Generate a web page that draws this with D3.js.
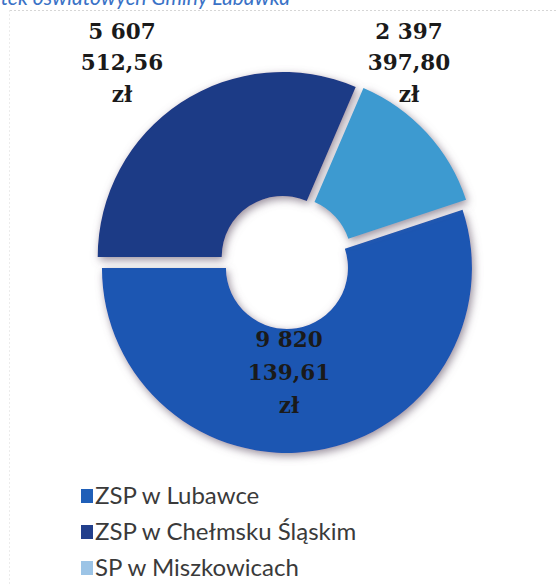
<!DOCTYPE html>
<html>
<head>
<meta charset="utf-8">
<script src="https://cdn.jsdelivr.net/npm/d3@7"></script>
<style>
  html, body { margin: 0; padding: 0; background: #ffffff; }
  svg { display: block; }
</style>
</head>
<body>
<svg id="chart" width="556" height="586"></svg>
<script>
// ---- data ----
const categories = ["ZSP w Lubawce", "ZSP w Chełmsku Śląskim", "SP w Miszkowicach"];
const values = [9820139.61, 5607512.56, 2397397.80];
const sliceColors = ["#1b56b2", "#1f3a86", "#3e9ad0"];
const legendColors = ["#1f5fb8", "#223f8c", "#9cc4e6"];
const titleText = "Wydatki jednostek oświatowych Gminy Lubawka";

// ---- layout ----
const W = 556, H = 586;
const cx = 286, cy = 262, rOuter = 185, rInner = 61, explode = 6;

const svg = d3.select("#chart");

const defs = svg.append("defs");
const f = defs.append("filter").attr("id", "shadow")
  .attr("x", "-20%").attr("y", "-20%").attr("width", "140%").attr("height", "140%");
f.append("feGaussianBlur").attr("in", "SourceAlpha").attr("stdDeviation", 4).attr("result", "blur");
f.append("feOffset").attr("in", "blur").attr("dx", 2).attr("dy", 3).attr("result", "off");
f.append("feFlood").attr("flood-color", "#76687a").attr("flood-opacity", 0.75).attr("result", "col");
f.append("feComposite").attr("in", "col").attr("in2", "off").attr("operator", "in").attr("result", "sh");
const m = f.append("feMerge");
m.append("feMergeNode").attr("in", "sh");
m.append("feMergeNode").attr("in", "SourceGraphic");

// faint frame (dotted) of the original chart area
svg.append("line").attr("x1", 10).attr("x2", W).attr("y1", 10.5).attr("y2", 10.5)
  .attr("stroke", "#d6d6d6").attr("stroke-width", 1).attr("stroke-dasharray", "2,2");
svg.append("line").attr("x1", 9.5).attr("x2", 9.5).attr("y1", 10).attr("y2", H)
  .attr("stroke", "#ececec").attr("stroke-width", 1).attr("stroke-dasharray", "2,2");

// title (cut off at the top, as in the scanned original)
svg.append("text")
  .attr("x", 290).attr("y", 5)
  .attr("text-anchor", "end")
  .attr("font-family", "Lato, 'Open Sans', sans-serif")
  .attr("font-style", "italic")
  .attr("font-size", 21)
  .attr("fill", "#3a72c6")
  .text(titleText);

// ---- pie ----
const total = d3.sum(values);
const a0 = 1.5 * Math.PI - 2 * Math.PI * values[0] / total;
const pie = d3.pie().sort(null).startAngle(a0).endAngle(a0 + 2 * Math.PI);
const arcs = pie(values);
const arc = d3.arc().innerRadius(rInner).outerRadius(rOuter);

const g = svg.append("g").attr("transform", `translate(${cx},${cy})`);
g.selectAll("path.slice")
  .data(arcs)
  .join("path")
  .attr("class", "slice")
  .attr("filter", "url(#shadow)")
  .attr("transform", d => {
    const mid = (d.startAngle + d.endAngle) / 2;
    return `translate(${explode * Math.sin(mid)},${-explode * Math.cos(mid)})`;
  })
  .attr("fill", (d, i) => sliceColors[i])
  .attr("d", arc);

// ---- labels ----
const locale = d3.formatLocale({ decimal: ",", thousands: " ", grouping: [3], currency: ["", " zł"] });
const fmt = locale.format(",.2f");
function labelLines(v) {
  const s = fmt(v);
  const parts = s.split(" ");
  const last = parts.pop();
  return [parts.join(" "), last, "zł"];
}
const labelLayout = [
  { x: 289, y: 347, lh: 33 },
  { x: 122, y: 38.5, lh: 31.6 },
  { x: 409, y: 38.5, lh: 31.6 }
];
values.forEach((v, i) => {
  const L = labelLayout[i];
  const t = svg.append("text")
    .attr("text-anchor", "middle")
    .attr("font-family", "'DejaVu Serif', serif")
    .attr("font-weight", "bold")
    .attr("font-size", 21.5)
    .attr("fill", "#1a1a1a");
  labelLines(v).forEach((line, k) => {
    t.append("tspan").attr("x", L.x).attr("y", L.y + k * L.lh).text(line);
  });
});

// ---- legend ----
const lg = svg.append("g");
const legendY = d3.scalePoint().domain(categories).range([504, 576]);
categories.forEach((c, i) => {
  const y = legendY(c);
  lg.append("rect").attr("x", 81).attr("y", y - 15).attr("width", 12).attr("height", 14)
    .attr("fill", legendColors[i]);
  lg.append("text").attr("x", 95).attr("y", y)
    .attr("font-family", "Lato, 'Open Sans', sans-serif")
    .attr("font-size", 24)
    .attr("fill", "#3a3a3a")
    .text(c);
});
</script>
</body>
</html>
